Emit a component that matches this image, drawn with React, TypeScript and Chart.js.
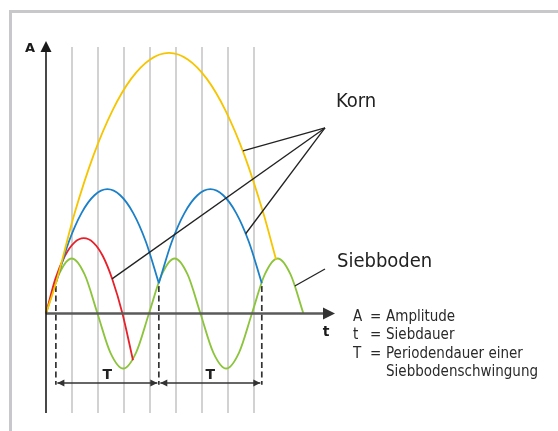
import React, { useEffect, useRef } from "react";
import { Chart, registerables } from "chart.js";

Chart.register(...registerables);

// ---- data (x in grid units, y in sieve-amplitude units) ----
const gridX = [1, 2, 3, 4, 5, 6, 7, 8];

const sieveX = [0, 0.495, 0.99, 1.485, 1.98, 2.475, 2.97, 3.465, 3.96, 4.455, 4.95, 5.445, 5.94, 6.435, 6.93, 7.425, 7.92, 8.415, 8.91, 9.405, 9.9];
const sieveY = [0, 0.71, 1, 0.71, 0, -0.71, -1, -0.71, 0, 0.71, 1, 0.71, 0, -0.71, -1, -0.71, 0, 0.71, 1, 0.71, 0];

const redX = [0, 0.36, 0.73, 1.09, 1.454, 1.82, 2.18, 2.56, 2.94, 3.346];
const redY = [0, 0.63, 1.05, 1.29, 1.37, 1.29, 1.05, 0.61, 0, -0.85];

const blue1X = [0.38, 0.875, 1.37, 1.865, 2.36, 2.855, 3.35, 3.845, 4.34];
const blue1Y = [0.55, 1.3, 1.83, 2.15, 2.26, 2.15, 1.83, 1.3, 0.55];

const blue2X = [4.34, 4.835, 5.33, 5.825, 6.32, 6.815, 7.31, 7.805, 8.3];
const blue2Y = [0.55, 1.3, 1.83, 2.15, 2.26, 2.15, 1.83, 1.3, 0.55];

const yellowX = [0, 0.38, 1.105, 1.83, 2.555, 3.28, 4.005, 4.73, 5.455, 6.18, 6.905, 7.63, 8.355, 8.85];
const yellowY = [0, 0.55, 1.83, 2.88, 3.69, 4.27, 4.62, 4.74, 4.62, 4.27, 3.69, 2.88, 1.83, 0.98];

const throwX = [0.38, 4.34, 8.3];
const throwTopY = 0.5;
const periodArrowY = -1.2636;

const kornHub = { x: 10.73, y: 3.373 };
const kornTargets = [
  { x: 7.577, y: 2.955 },
  { x: 2.54, y: 0.63 },
  { x: 7.68, y: 1.45 },
];
const siebHub = { x: 10.73, y: 0.809 };
const siebTarget = { x: 9.57, y: 0.5 };

const legendSymbols = ["A", "t", "T", ""];
const legendTexts = ["Amplitude", "Siebdauer", "Periodendauer einer", "Siebbodenschwingung"];
const legendRowY = [-0.136, -0.4727, -0.809, -1.136];

const gridTopY = 4.845;
const gridBottomY = -1.809;
const xAxisEnd = 11.115;

const toPts = (xs: number[], ys: number[]) => xs.map((x, i) => ({ x, y: ys[i] }));

const COND = '"DejaVu Sans Condensed", "DejaVu Sans", sans-serif';
const SANS = '"DejaVu Sans", Verdana, sans-serif';

const decorPlugin = {
  id: "decor",
  beforeDatasetsDraw(chart: any) {
    const ctx = chart.ctx;
    const xs = chart.scales.x;
    const ys = chart.scales.y;
    ctx.save();
    // frame (top & left)
    ctx.fillStyle = "#c8c8cb";
    ctx.fillRect(9, 10, chart.width - 9, 3);
    ctx.fillRect(9, 10, 3, chart.height - 10);
    // vertical grid lines
    ctx.strokeStyle = "#d2d2d2";
    ctx.lineWidth = 2;
    gridX.forEach((g) => {
      const p = Math.round(xs.getPixelForValue(g));
      ctx.beginPath();
      ctx.moveTo(p, ys.getPixelForValue(gridTopY));
      ctx.lineTo(p, ys.getPixelForValue(gridBottomY));
      ctx.stroke();
    });
    ctx.restore();
  },
  afterDatasetsDraw(chart: any) {
    const ctx = chart.ctx;
    const xs = chart.scales.x;
    const ys = chart.scales.y;
    const px = (v: number) => xs.getPixelForValue(v);
    const py = (v: number) => ys.getPixelForValue(v);
    ctx.save();

    const x0 = px(0);
    const y0 = py(0);
    // x axis
    const xEnd = px(xAxisEnd);
    ctx.strokeStyle = "#5a5a5a";
    ctx.lineWidth = 2.5;
    ctx.beginPath();
    ctx.moveTo(x0, y0);
    ctx.lineTo(xEnd - 11, y0);
    ctx.stroke();
    ctx.fillStyle = "#333";
    ctx.beginPath();
    ctx.moveTo(xEnd, y0);
    ctx.lineTo(xEnd - 12, y0 - 6);
    ctx.lineTo(xEnd - 12, y0 + 6);
    ctx.closePath();
    ctx.fill();

    // y axis
    const yTop = py(gridTopY) - 6;
    ctx.strokeStyle = "#1a1a1a";
    ctx.lineWidth = 1.6;
    ctx.beginPath();
    ctx.moveTo(x0, py(gridBottomY));
    ctx.lineTo(x0, yTop + 8);
    ctx.stroke();
    ctx.fillStyle = "#1a1a1a";
    ctx.beginPath();
    ctx.moveTo(x0, yTop);
    ctx.lineTo(x0 - 5.5, yTop + 11);
    ctx.lineTo(x0 + 5.5, yTop + 11);
    ctx.closePath();
    ctx.fill();

    // period arrows
    const ay = py(periodArrowY);
    ctx.strokeStyle = "#333";
    ctx.fillStyle = "#333";
    ctx.lineWidth = 1.5;
    for (let i = 0; i < throwX.length - 1; i++) {
      const a = px(throwX[i]) + 1.5;
      const b = px(throwX[i + 1]) - 1.5;
      ctx.beginPath();
      ctx.moveTo(a, ay);
      ctx.lineTo(b, ay);
      ctx.stroke();
      ctx.beginPath();
      ctx.moveTo(a, ay);
      ctx.lineTo(a + 7, ay - 3.5);
      ctx.lineTo(a + 7, ay + 3.5);
      ctx.closePath();
      ctx.fill();
      ctx.beginPath();
      ctx.moveTo(b, ay);
      ctx.lineTo(b - 7, ay - 3.5);
      ctx.lineTo(b - 7, ay + 3.5);
      ctx.closePath();
      ctx.fill();
      // T label
      ctx.font = "bold 14px " + SANS;
      ctx.textAlign = "center";
      ctx.textBaseline = "alphabetic";
      ctx.fillStyle = "#222";
      ctx.fillText("T", (px(throwX[i]) + px(throwX[i + 1])) / 2, py(-1.191));
      ctx.fillStyle = "#333";
    }

    // axis labels
    ctx.fillStyle = "#1a1a1a";
    ctx.textAlign = "left";
    ctx.font = "bold 13px " + SANS;
    ctx.fillText("A", px(-0.808), py(4.755));
    ctx.textAlign = "center";
    ctx.font = "bold 14px " + SANS;
    ctx.fillText("t", px(10.769), py(-0.409));

    // big labels
    ctx.fillStyle = "#222";
    ctx.textAlign = "left";
    ctx.font = "20px " + COND;
    ctx.fillText("Korn", px(11.154), py(3.7545));
    ctx.fillText("Siebboden", px(11.192), py(0.845));

    // legend
    ctx.font = "15px " + COND;
    ctx.fillStyle = "#2a2a2a";
    legendTexts.forEach((t, i) => {
      const yy = py(legendRowY[i]);
      if (legendSymbols[i]) {
        ctx.fillText(legendSymbols[i], px(11.808), yy);
        ctx.fillText("=", px(12.462), yy);
      }
      ctx.fillText(t, px(13.077), yy);
    });
    ctx.restore();
  },
};

export default function App() {
  const ref = useRef<HTMLCanvasElement | null>(null);
  useEffect(() => {
    if (!ref.current) return;
    const curve = (data: any, color: string, order: number) => ({
      data,
      borderColor: color,
      borderWidth: 1.8,
      pointRadius: 0,
      fill: false,
      cubicInterpolationMode: "monotone" as const,
      order,
      clip: false,
    });
    const straight = (data: any, color: string, width: number, order: number, dash: number[] = []) => ({
      data,
      borderColor: color,
      borderWidth: width,
      pointRadius: 0,
      fill: false,
      tension: 0,
      borderDash: dash,
      order,
      clip: false,
    });
    const datasets: any[] = [
      curve(toPts(sieveX, sieveY), "#8cc43c", 4),
      curve(toPts(redX, redY), "#e8202a", 3),
      curve(toPts(blue1X, blue1Y), "#1b80c8", 2),
      curve(toPts(blue2X, blue2Y), "#1b80c8", 2),
      curve(toPts(yellowX, yellowY), "#f6c500", 1),
    ];
    kornTargets.forEach((t) => datasets.push(straight([kornHub, t], "#222", 1.3, 0)));
    datasets.push(straight([siebHub, siebTarget], "#222", 1.3, 0));
    throwX.forEach((x) =>
      datasets.push(straight([{ x, y: throwTopY }, { x, y: periodArrowY - 0.03 }], "#333", 1.7, 5, [6, 3.5]))
    );

    const chart = new Chart(ref.current, {
      type: "line",
      data: { datasets },
      options: {
        animation: false,
        responsive: false,
        devicePixelRatio: 1,
        layout: { padding: 0 },
        plugins: { legend: { display: false }, tooltip: { enabled: false } },
        scales: {
          x: { type: "linear", min: -1.7692, max: 19.6923, display: false },
          y: { type: "linear", min: -2.1364, max: 5.7, display: false },
        },
      },
      plugins: [decorPlugin],
    });
    return () => chart.destroy();
  }, []);
  return (
    <div style={{ position: "fixed", left: 0, top: 0, width: 558, height: 431, background: "#fff" }}>
      <canvas ref={ref} width={558} height={431} style={{ display: "block" }} />
    </div>
  );
}
